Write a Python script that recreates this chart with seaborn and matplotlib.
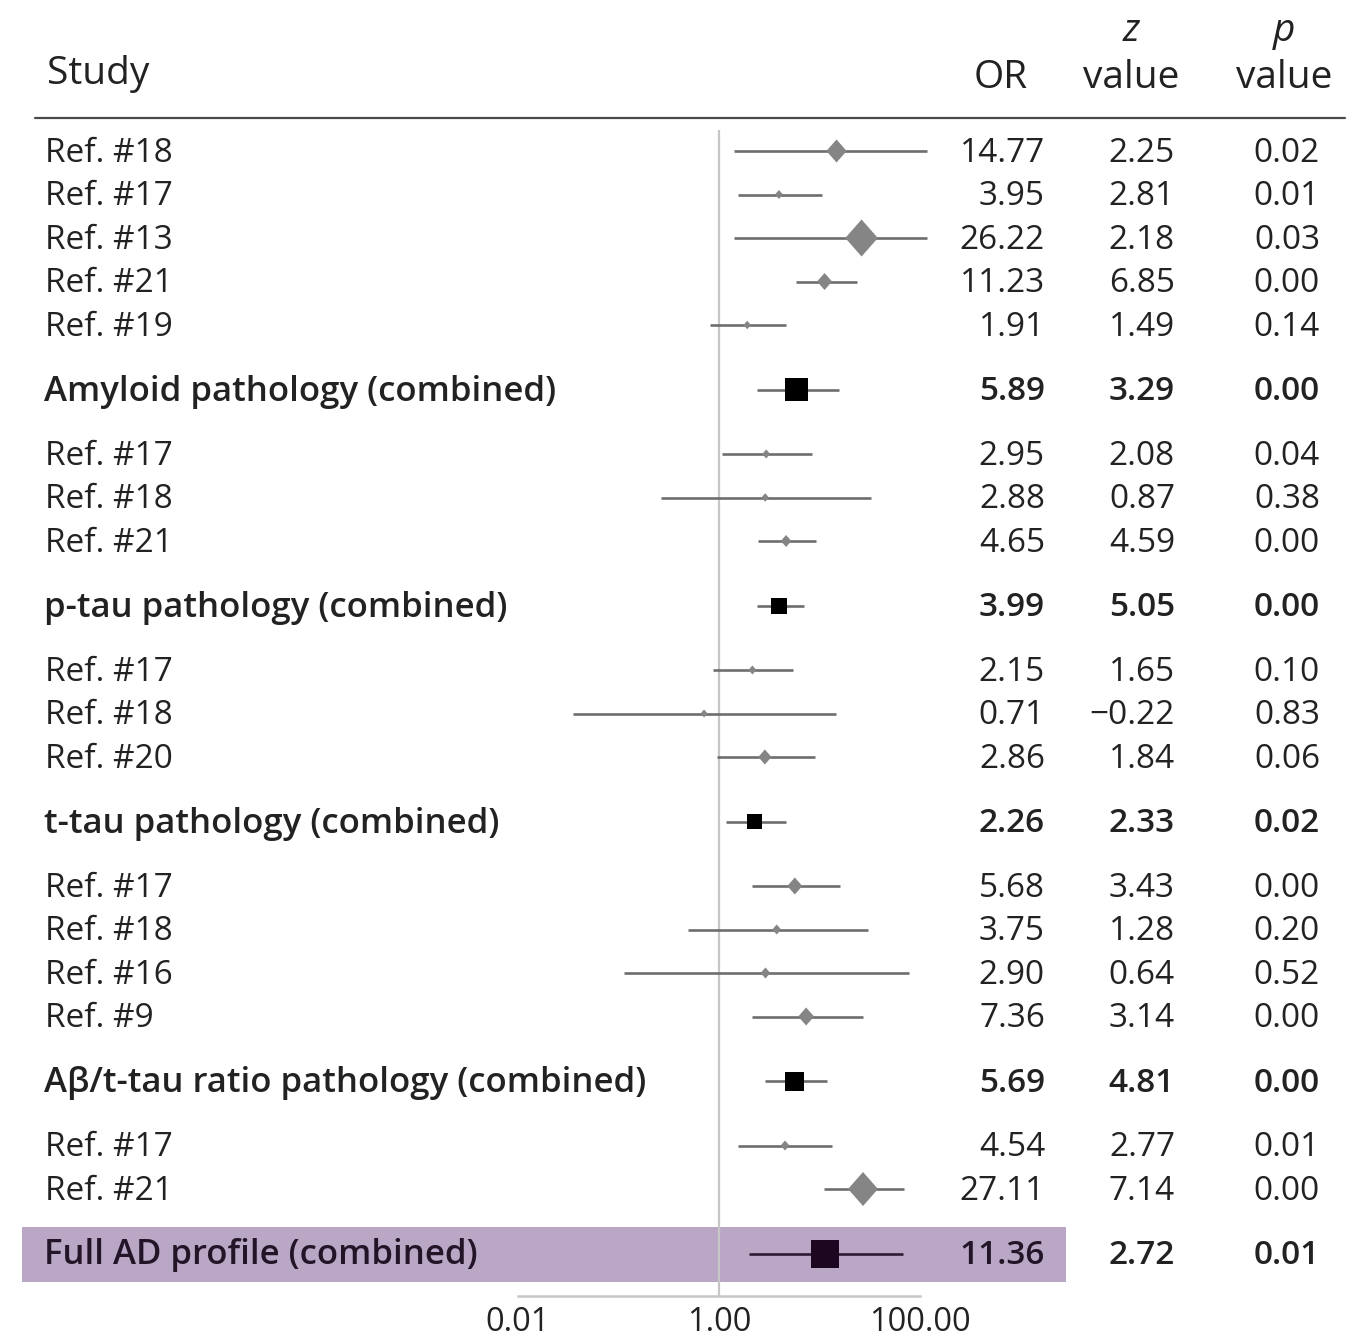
import numpy as np
import pandas as pd
import matplotlib
matplotlib.use("Agg")
import matplotlib.pyplot as plt
from matplotlib.path import Path
import seaborn as sns

# ---------------- data ----------------
labels = ["Ref. #18", "Ref. #17", "Ref. #13", "Ref. #21", "Ref. #19",
          "Amyloid pathology (combined)",
          "Ref. #17", "Ref. #18", "Ref. #21",
          "p-tau pathology (combined)",
          "Ref. #17", "Ref. #18", "Ref. #20",
          "t-tau pathology (combined)",
          "Ref. #17", "Ref. #18", "Ref. #16", "Ref. #9",
          "Aβ/t-tau ratio pathology (combined)",
          "Ref. #17", "Ref. #21",
          "Full AD profile (combined)"]
kinds = ["study"] * 5 + ["combined"] + ["study"] * 3 + ["combined"] + \
        ["study"] * 3 + ["combined"] + ["study"] * 4 + ["combined"] + \
        ["study"] * 2 + ["final"]
odds_ratio = [14.77, 3.95, 26.22, 11.23, 1.91, 5.89, 2.95, 2.88, 4.65, 3.99,
              2.15, 0.71, 2.86, 2.26, 5.68, 3.75, 2.90, 7.36, 5.69, 4.54, 27.11, 11.36]
ci_lower = [1.41, 1.55, 1.41, 5.8, 0.81, 2.39, 1.07, 0.265, 2.44, 2.39,
            0.87, 0.035, 0.955, 1.17, 2.13, 0.49, 0.113, 2.13, 2.87, 1.55, 11.1, 1.99]
ci_upper = [117, 10.6, 117, 23.6, 4.6, 15.6, 8.4, 32.5, 9.2, 7.0,
            5.45, 14.6, 9.0, 4.64, 16.0, 30.4, 77.6, 27.0, 11.9, 13.3, 69.3, 67.6]
z_values = ["2.25", "2.81", "2.18", "6.85", "1.49", "3.29", "2.08", "0.87", "4.59", "5.05",
            "1.65", "\u22120.22", "1.84", "2.33", "3.43", "1.28", "0.64", "3.14", "4.81",
            "2.77", "7.14", "2.72"]
p_values = ["0.02", "0.01", "0.03", "0.00", "0.14", "0.00", "0.04", "0.38", "0.00", "0.00",
            "0.10", "0.83", "0.06", "0.02", "0.00", "0.20", "0.52", "0.00", "0.00",
            "0.01", "0.00", "0.01"]
# relative study weight
weights = [23, 9, 37, 17, 8.5, 23, 9, 8.5, 12, 16, 9, 8, 15, 15, 17, 10, 11, 18, 19, 10, 34, 28]

tick_values = [0.01, 1.0, 100.0]
tick_labels = ["0.01", "1.00", "100.00"]

# ---------------- layout ----------------
W, H, DPI = 1358, 1341, 100
row_step, group_step = 43.5, 64.5
ypos = []
y = 151.0
for i, k in enumerate(kinds):
    if i > 0:
        prev = kinds[i - 1]
        y += group_step if (k != "study" or prev != "study") else row_step
    ypos.append(y)

df = pd.DataFrame({"label": labels, "kind": kinds, "OR": odds_ratio,
                   "lo": ci_lower, "hi": ci_upper, "z": z_values, "p": p_values,
                   "w": weights, "y": ypos})
df["s"] = (df["w"] * 72.0 / DPI) ** 2

sns.set_theme(style="white")
plt.rcParams["font.family"] = ["Open Sans", "DejaVu Sans"]

fig = plt.figure(figsize=(W / DPI, H / DPI), dpi=DPI)
ax = fig.add_axes([0, 0, 1, 1])
ax.set_xscale("log")
px_per_decade = 100.5
x_one = 719.0
ax.set_xlim(10 ** (-x_one / px_per_decade), 10 ** ((W - x_one) / px_per_decade))
ax.set_ylim(H, 0)
ax.patch.set_alpha(0)

# highlight band for the final combined row
final = df[df.kind == "final"].iloc[0]
ax.axhspan(final.y - 27, final.y + 28, xmin=22 / W, xmax=1066 / W,
           color="#b9a7c5", lw=0, zorder=0)

# header rule
ax.axhline(118, xmin=35 / W, xmax=1345 / W, color="#4a4a4a", lw=1.6, zorder=1)

# null line
ax.vlines(1.0, 130, 1296, color="#c6c6c6", lw=1.6, zorder=1)

# confidence intervals
line_cols = {"study": "#6e6e6e", "combined": "#6e6e6e", "final": "#2e1c34"}
for k, sub in df.groupby("kind"):
    ax.hlines(sub["y"], sub["lo"], sub["hi"], color=line_cols[k], lw=1.9, zorder=2)

# markers
diamond = Path([(0, 1), (0.88, 0), (0, -1), (-0.88, 0), (0, 1)],
               [Path.MOVETO, Path.LINETO, Path.LINETO, Path.LINETO, Path.CLOSEPOLY])
st = df[df.kind == "study"]
sns.scatterplot(data=st, x="OR", y="y", marker=diamond, s=st["s"].values,
                color="#858585", linewidth=0, ax=ax, zorder=3, legend=False)
cb = df[df.kind == "combined"]
sns.scatterplot(data=cb, x="OR", y="y", marker="s", s=cb["s"].values,
                color="black", linewidth=0, ax=ax, zorder=3, legend=False)
fn = df[df.kind == "final"]
sns.scatterplot(data=fn, x="OR", y="y", marker="s", s=fn["s"].values,
                color="#1c0620", linewidth=0, ax=ax, zorder=3, legend=False)

# axis
for sp in ["top", "left", "right"]:
    ax.spines[sp].set_visible(False)
ax.spines["bottom"].set_position(("data", 1296))
ax.spines["bottom"].set_bounds(tick_values[0], tick_values[-1])
ax.spines["bottom"].set_color("#c6c6c6")
ax.spines["bottom"].set_linewidth(1.8)
ax.set_xticks(tick_values)
ax.set_xticklabels(tick_labels)
ax.xaxis.set_minor_locator(matplotlib.ticker.NullLocator())
ax.tick_params(axis="x", length=0, pad=7, labelsize=23.5, labelcolor="#222222")
ax.set_yticks([])
ax.set_xlabel("")
ax.set_ylabel("")
ax.grid(False)

tr = ax.get_yaxis_transform()
fs = 24
txt_col = "#222222"
x_label, x_or, x_z, x_p = 45 / W, 1045 / W, 1175 / W, 1320 / W

for _, r in df.iterrows():
    is_study = r.kind == "study"
    wt = "normal" if is_study else "semibold"
    lfs = fs if is_study else 25
    col = "#231428" if r.kind == "final" else txt_col
    ty = r.y + 2
    ax.text(x_label if is_study else 44 / W, ty, r.label, transform=tr, ha="left",
            va="center", fontsize=lfs, fontweight=wt, color=col)
    ax.text(x_or, ty, f"{r.OR:.2f}", transform=tr, ha="right", va="center",
            fontsize=fs, fontweight=wt, color=col)
    ax.text(x_z, ty, r.z, transform=tr, ha="right", va="center",
            fontsize=fs, fontweight=wt, color=txt_col)
    ax.text(x_p, ty, r.p, transform=tr, ha="right", va="center",
            fontsize=fs, fontweight=wt, color=txt_col)

# header
hfs = 28
ax.text(47 / W, 74, "Study", transform=tr, ha="left", va="center", fontsize=hfs, color=txt_col)
ax.text(1001 / W, 78, "OR", transform=tr, ha="center", va="center", fontsize=hfs, color=txt_col)
ax.text(1131 / W, 31, "z", transform=tr, ha="center", va="center", fontsize=hfs,
        style="italic", color=txt_col)
ax.text(1131 / W, 78, "value", transform=tr, ha="center", va="center", fontsize=hfs, color=txt_col)
ax.text(1284 / W, 31, "p", transform=tr, ha="center", va="center", fontsize=hfs,
        style="italic", color=txt_col)
ax.text(1284 / W, 78, "value", transform=tr, ha="center", va="center", fontsize=hfs, color=txt_col)

fig.savefig("out.png", dpi=DPI)
